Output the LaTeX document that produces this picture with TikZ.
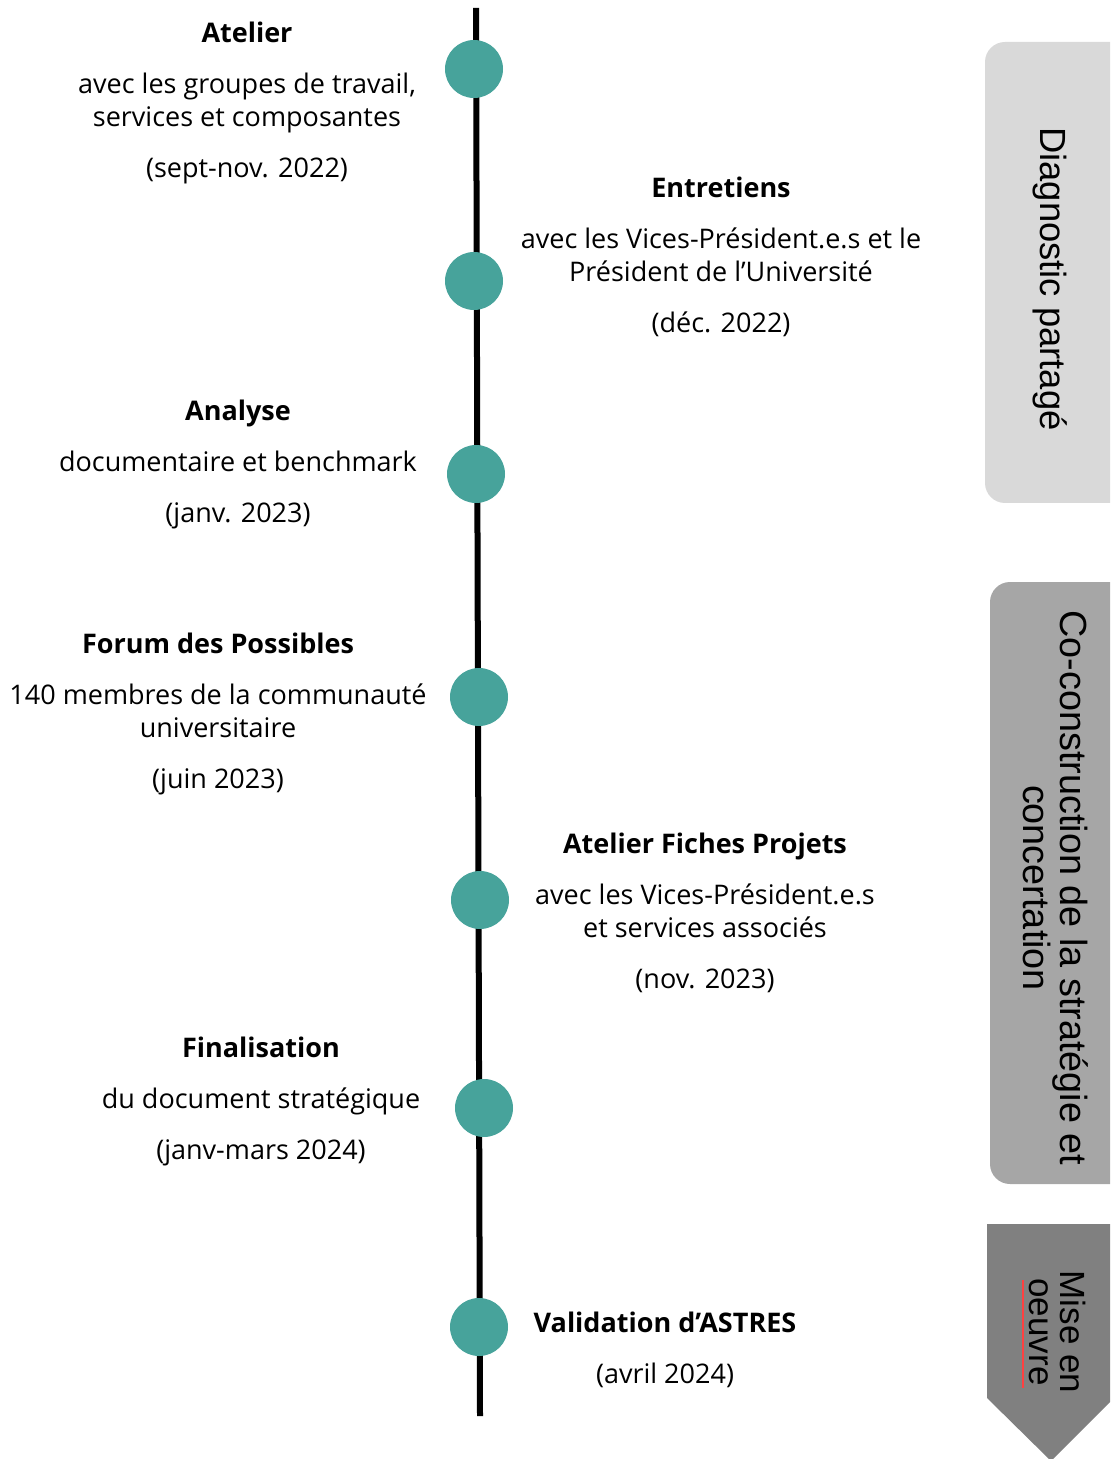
\documentclass[tikz,border=0pt]{standalone}
\usepackage{fontspec}
\setmainfont{Open Sans}
\newfontfamily\phasefont{Liberation Sans}
\definecolor{dotteal}{HTML}{47A39B}
\definecolor{phaseA}{HTML}{D9D9D9}
\definecolor{phaseB}{HTML}{A6A6A6}
\definecolor{phaseC}{HTML}{808080}
\tikzset{
    dot/.style={circle, fill=dotteal, minimum size=29pt, inner sep=0pt},
    event/.style={align=center, anchor=north, inner sep=0pt,
        font=\fontsize{13.5}{16.5}\selectfont},
    phase/.style={rotate=-90, align=center, inner sep=0pt,
        font=\phasefont\fontsize{17.5}{17.5}\selectfont},
}
\begin{document}
\begin{tikzpicture}[x=0.5pt, y=-0.5pt]
    \clip (0, 0) rectangle (1110, 1459);
    % phases on the right
    \fill[phaseA, rounded corners=10pt] (985, 42) rectangle (1140, 503);
    \fill[phaseB, rounded corners=10pt] (990, 582) rectangle (1140, 1184);
    \fill[phaseC] (987, 1224) -- (1114, 1224) -- (1114, 1398) -- (1051, 1461) -- (987, 1398) -- cycle;
    \node[phase, font=\phasefont\fontsize{18.2}{18}\selectfont] (diag) at (1050, 279) {Diagnostic partagé};
    \node[phase, font=\phasefont\fontsize{18.9}{17.5}\selectfont] (cocon) at (1056, 888) {Co-construction de la stratégie et\\concertation};
    \node[phase, font=\phasefont\fontsize{17.5}{15.5}\selectfont] (mise) at (1057, 1332) {Mise en\\oeuvre};
    \draw[red!75, line width=0.6pt] (1023, 1280) to (1023, 1388);
    % timeline
    \coordinate (top) at (476, 8);
    \coordinate (bot) at (480, 1416);
    \draw[line width=3pt] (top) to (bot);
    \node[dot] (d1) at (474, 69) {};
    \node[dot] (d2) at (474, 281) {};
    \node[dot] (d3) at (476, 474) {};
    \node[dot] (d4) at (479, 697) {};
    \node[dot] (d5) at (480, 900) {};
    \node[dot] (d6) at (484, 1108) {};
    \node[dot] (d7) at (479, 1327) {};
    % events
    \node[event] (atelier) at (247, 22) {\textbf{Atelier}\\[9pt]avec les groupes de travail,\\services et composantes\\[9pt](sept-nov. 2022)};
    \node[event] (entretiens) at (721, 177) {\textbf{Entretiens}\\[9pt]avec les Vices-Président.e.s et le\\Président de l’Université\\[9pt](déc. 2022)};
    \node[event] (analyse) at (238, 400) {\textbf{Analyse}\\[9pt]documentaire et benchmark\\[9pt](janv. 2023)};
    \node[event] (forum) at (218, 633) {\textbf{Forum des Possibles}\\[9pt]140 membres de la communauté\\universitaire\\[9pt](juin 2023)};
    \node[event] (fiches) at (705, 833) {\textbf{Atelier Fiches Projets}\\[9pt]avec les Vices-Président.e.s\\et services associés\\[9pt](nov. 2023)};
    \node[event] (final) at (261, 1037) {\textbf{Finalisation}\\[9pt]du document stratégique\\[9pt](janv-mars 2024)};
    \node[event] (valid) at (665, 1312) {\textbf{Validation d’ASTRES}\\[9pt](avril 2024)};
\end{tikzpicture}
\end{document}
